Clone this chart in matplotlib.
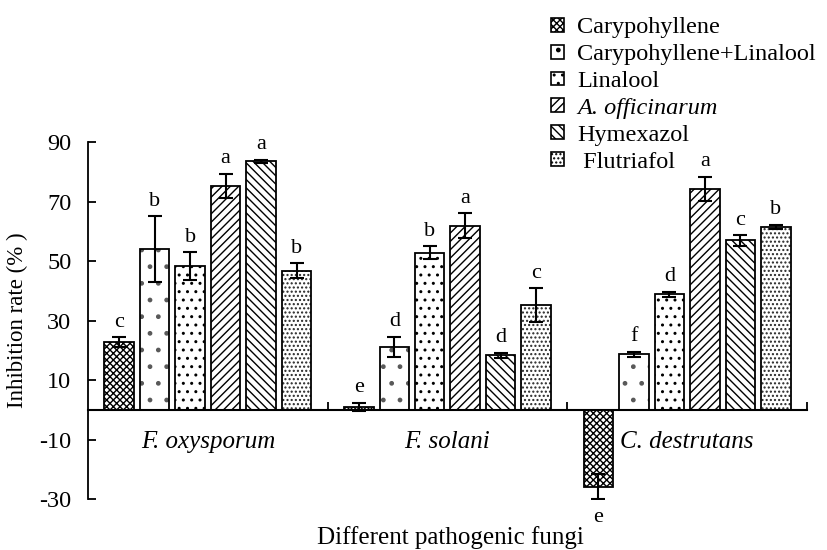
import matplotlib
matplotlib.use('Agg')
import matplotlib.pyplot as plt
from matplotlib.patches import Patch
import numpy as np

plt.rcParams['font.family'] = ['Liberation Serif', 'DejaVu Serif']
plt.rcParams['axes.unicode_minus'] = False
plt.rcParams['hatch.linewidth'] = 1.0

# 数据
fungi = ['F. oxysporum', 'F. solani', 'C. destrutans']
treatments = ['Carypohyllene', 'Carypohyllene+Linalool', 'Linalool',
              'A. officinarum', 'Hymexazol', ' Flutriafol']
means = [
    [22.7, 54.0, 48.3, 75.2, 83.6, 46.8],
    [1.0, 21.2, 52.8, 61.9, 18.3, 35.2],
    [-25.9, 18.6, 38.8, 74.2, 56.9, 61.4],
]
errs = [
    [1.7, 11.0, 4.6, 4.1, 0.5, 2.4],
    [1.3, 3.4, 2.2, 4.1, 0.9, 5.6],
    [4.2, 0.9, 0.8, 4.1, 1.7, 0.7],
]
letters = [
    ['c', 'b', 'b', 'a', 'a', 'b'],
    ['e', 'd', 'b', 'a', 'd', 'c'],
    ['e', 'f', 'd', 'a', 'c', 'b'],
]
hatches = ['xxxxx', '.', '..', '////', '\\\\\\\\', '....']
hatch_colors = ['black', '0.35', 'black', 'black', 'black', '0.15']
yticks = [-30, -10, 10, 30, 50, 70, 90]

means = np.array(means)
errs = np.array(errs)

fig = plt.figure(figsize=(8.27, 5.5), dpi=100)
ax = fig.add_axes([0.1064, 0.0927, 0.8694, 0.6491])

step = 0.148
width = 0.123
x = np.arange(len(fungi))
handles = []
for j, name in enumerate(treatments):
    pos = x + (j - 2.5) * step
    # 先画填充图案，再画黑色边框和误差线
    ax.bar(pos, means[:, j], width, color='white', edgecolor=hatch_colors[j],
           hatch=hatches[j], linewidth=0, zorder=2)
    ax.bar(pos, means[:, j], width, yerr=errs[:, j], fill=False,
           edgecolor='black', linewidth=1.3,
           error_kw=dict(ecolor='black', elinewidth=1.5, capsize=5, capthick=1.5),
           zorder=3)
    handles.append(Patch(facecolor='white', edgecolor='black', hatch=hatches[j], linewidth=1.2))
    for i in range(len(fungi)):
        m, e = means[i, j], errs[i, j]
        if m >= 0:
            ax.annotate(letters[i][j], (pos[i], m + e), xytext=(0, 4),
                        textcoords='offset points', ha='center', va='bottom', fontsize=16)
        else:
            ax.annotate(letters[i][j], (pos[i], m - e), xytext=(0, -6),
                        textcoords='offset points', ha='center', va='top', fontsize=16)

for i, name in enumerate(fungi):
    ax.text(x[i], -10.8, name, ha='center', va='center', fontsize=18, style='italic')

ax.set_xlim(-0.5, 2.5)
ax.set_ylim(-30, 90)
ax.set_yticks(yticks)
ax.set_xticks([0.5, 1.5, 2.5])
ax.set_xticklabels([])
ax.spines['top'].set_visible(False)
ax.spines['right'].set_visible(False)
ax.spines['bottom'].set_position(('data', 0))
ax.spines['left'].set_linewidth(1.3)
ax.spines['bottom'].set_linewidth(1.5)
ax.tick_params(axis='both', direction='in', length=6, width=1.3, labelsize=17.5)
ax.tick_params(axis='y', pad=12)

ax.set_ylabel('Inhibition rate (% )', fontsize=16.5, labelpad=8)
fig.text(0.545, 0.023, 'Different pathogenic fungi', ha='center', va='center', fontsize=18)

leg = fig.legend(handles, treatments, loc='upper left', bbox_to_anchor=(0.655, 0.986),
                 frameon=False, fontsize=17.5, handlelength=0.5, handleheight=0.5,
                 handletextpad=0.55, labelspacing=0.24, borderaxespad=0)
leg.get_texts()[3].set_fontstyle('italic')

plt.savefig('out.png', dpi=100)
